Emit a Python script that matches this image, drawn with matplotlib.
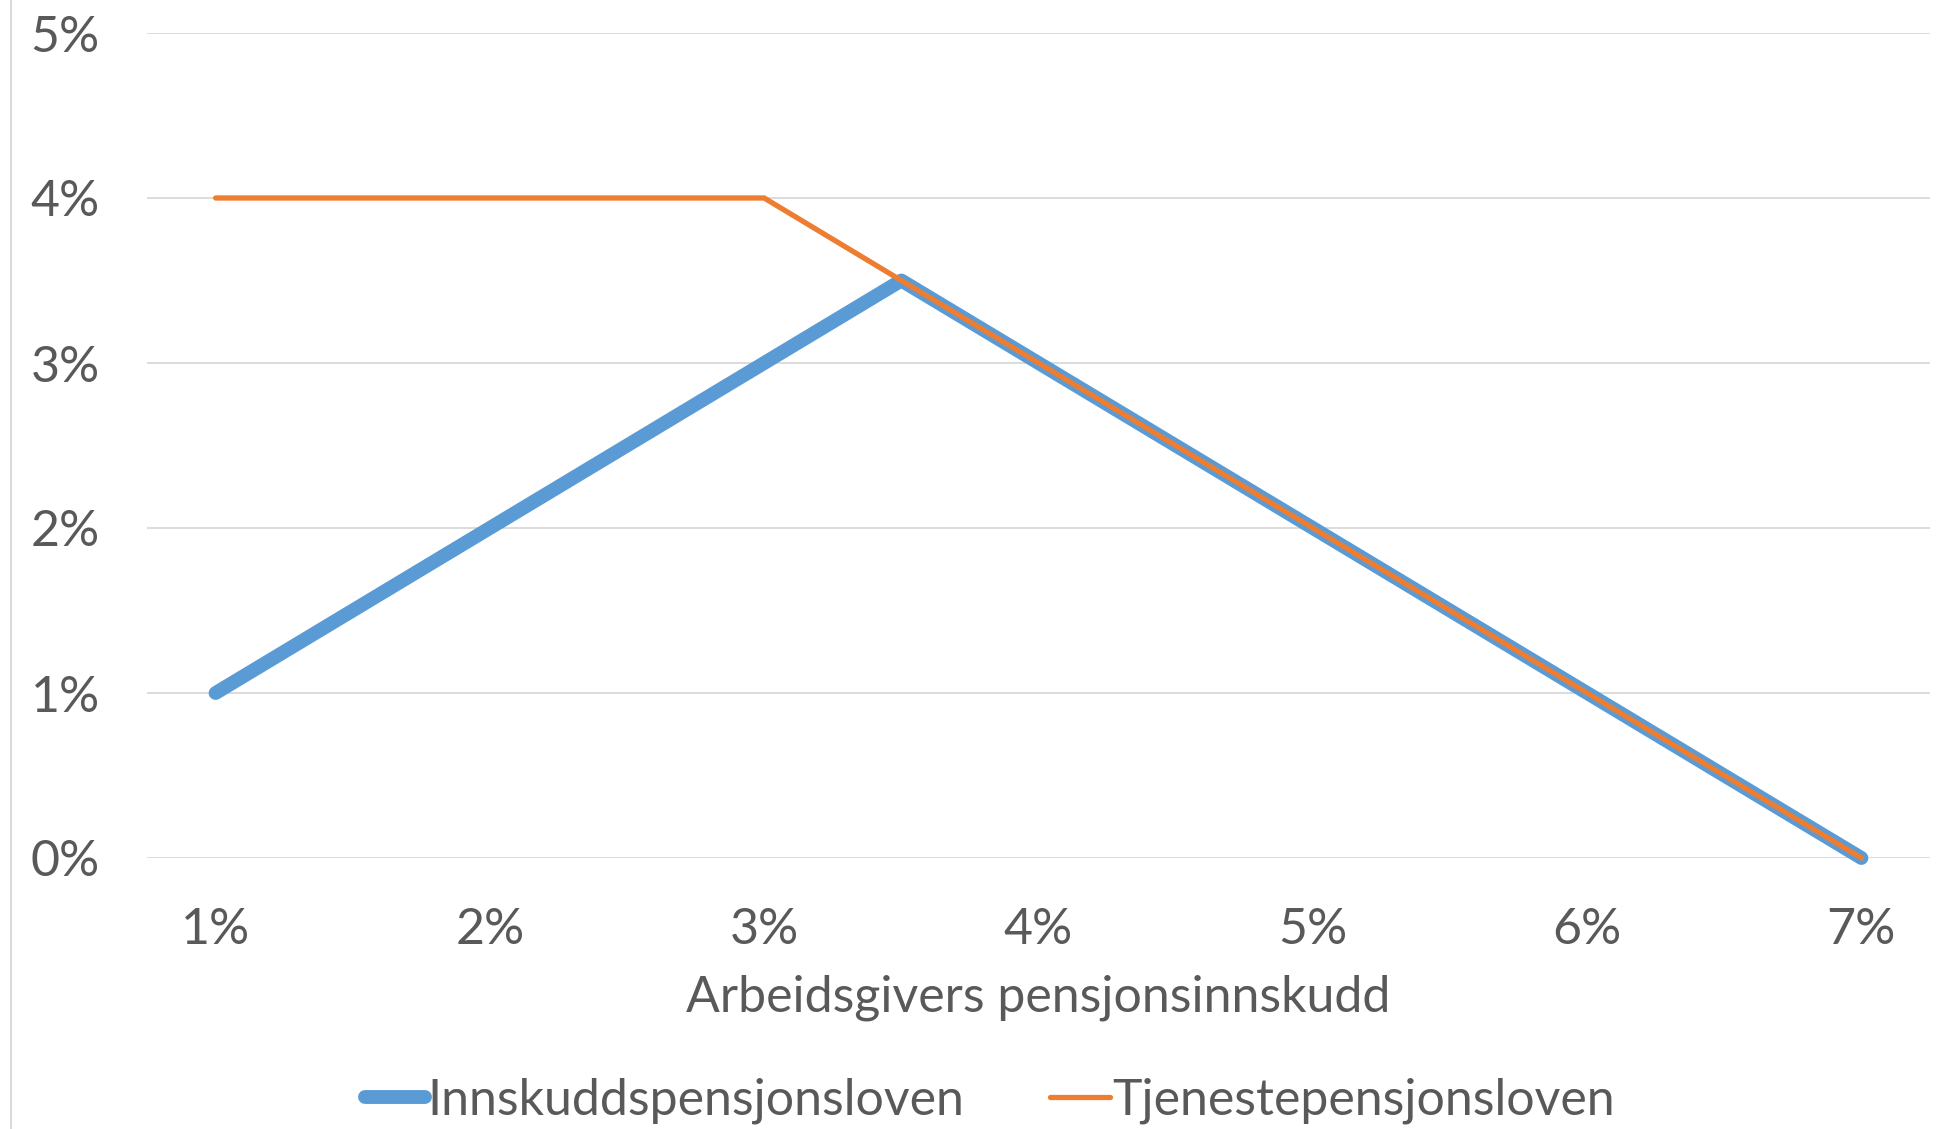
import matplotlib
matplotlib.use("Agg")
import matplotlib.pyplot as plt
from matplotlib.lines import Line2D

# data (percent)
x_vals = [1, 2, 3, 3.5, 4, 5, 6, 7]
innskudd = [1, 2, 3, 3.5, 3, 2, 1, 0]
tjeneste = [4, 4, 4, 3.5, 3, 2, 1, 0]
x_ticks = [1, 2, 3, 4, 5, 6, 7]
y_ticks = [0, 1, 2, 3, 4, 5]
series_names = ["Innskuddspensjonsloven", "Tjenestepensjonsloven"]

BLUE = "#5B9BD5"
ORANGE = "#ED7D31"
GREY_TXT = "#595959"
GRID = "#D9D9D9"
FS = 36

plt.rcParams['font.family'] = ['Lato', 'DejaVu Sans']

fig = plt.figure(figsize=(19.49, 11.29), dpi=100)
ax = fig.add_axes([147 / 1949, (1129 - 858) / 1129, (1930 - 147) / 1949, (858 - 33) / 1129])

ax.plot(x_vals, innskudd, color=BLUE, lw=10, solid_capstyle='round',
        solid_joinstyle='round', clip_on=False, zorder=3)
ax.plot(x_vals, tjeneste, color=ORANGE, lw=3.8, solid_capstyle='round',
        solid_joinstyle='miter', clip_on=False, zorder=4)

ax.set_xlim(0.75, 7.25)
ax.set_ylim(0, 5)
ax.set_xticks(x_ticks, [f"{v}%" for v in x_ticks])
ax.set_yticks(y_ticks, [f"{v}%" for v in y_ticks])
ax.grid(axis='y', color=GRID, lw=1.3)
ax.set_axisbelow(True)
for s in ax.spines.values():
    s.set_visible(False)
ax.tick_params(axis='both', length=0, labelsize=FS, labelcolor=GREY_TXT)
ax.tick_params(axis='y', pad=34)
ax.tick_params(axis='x', pad=35)

ax.set_xlabel("Arbeidsgivers pensjonsinnskudd", fontsize=FS, color=GREY_TXT, labelpad=16)

handles = [Line2D([], [], color=BLUE, lw=10, solid_capstyle='round'),
           Line2D([], [], color=ORANGE, lw=3.8, solid_capstyle='round')]
fig.legend(handles, series_names, loc='center', bbox_to_anchor=(0.508, 1 - 1101 / 1129),
           ncol=2, frameon=False, fontsize=FS, labelcolor=GREY_TXT,
           handlelength=1.2, handletextpad=0.05, columnspacing=1.7,
           borderpad=0, borderaxespad=0)

# chart border on the left edge of the crop
fig.add_artist(Line2D([11 / 1949, 11 / 1949], [0, 1], color=GRID, lw=1.5))

fig.savefig("out.png", dpi=100)
